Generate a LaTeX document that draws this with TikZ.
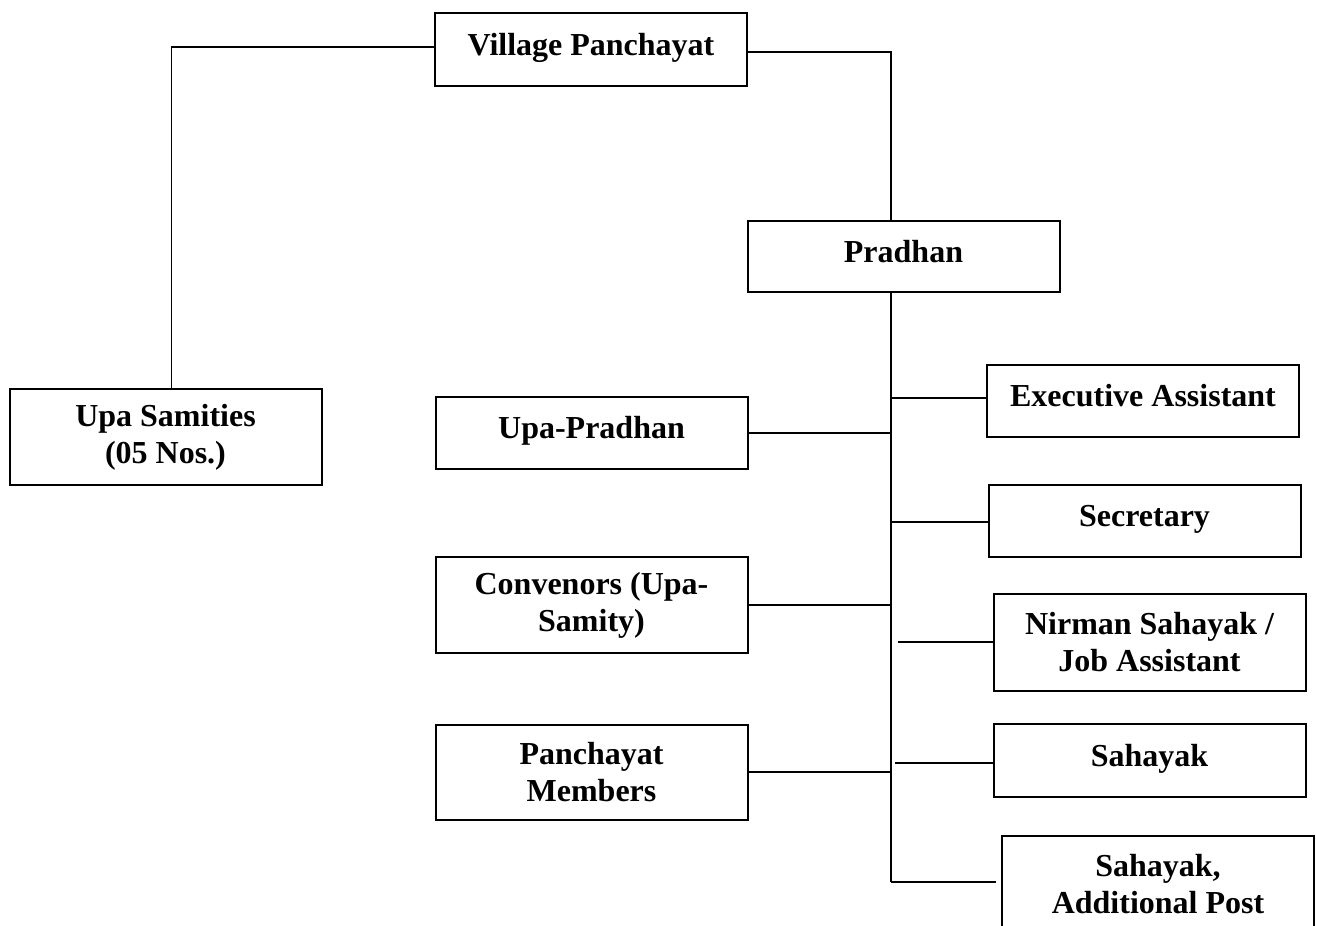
\documentclass[tikz,border=0pt]{standalone}
\usepackage{fontspec}
\setmainfont{Liberation Serif}
\usetikzlibrary{calc}
\begin{document}
\begin{tikzpicture}[x=1pt,y=-1pt,
  box/.style={draw=black, line width=2pt, rectangle, minimum width=312pt,
    inner sep=2pt, align=center,
    font=\fontsize{32}{37}\selectfont\bfseries},
  oneline/.style={text height=22pt, text depth=11pt},
  link/.style={draw=black, line width=1.8pt}]
\useasboundingbox (0,0) rectangle (1317,926);
\clip (0,0) rectangle (1317,926);

% top of the hierarchy
\node[box, oneline, minimum height=73pt] (vp) at (591,49.5) {Village Panchayat};
\node[box, oneline, minimum height=71pt] (pr) at (903.5,256.5) {Pradhan};
\node[box, minimum height=96pt] (us) at (165.5,437) {Upa Samities\\(05 Nos.)};

% elected side
\node[box, oneline, minimum height=72pt] (up) at (591.5,433) {Upa-Pradhan};
\node[box, minimum height=96pt] (cv) at (591.5,605) {Convenors (Upa-\\Samity)};
\node[box, minimum height=95pt] (pm) at (591.5,772.5) {Panchayat\\Members};

% staff side
\node[box, oneline, minimum height=72pt] (ea) at (1143,401) {Executive Assistant};
\node[box, oneline, minimum height=72pt] (se) at (1144.5,521) {Secretary};
\node[box, minimum height=97pt] (nj) at (1149.5,642.5) {Nirman Sahayak /\\Job Assistant};
\node[box, oneline, minimum height=73pt] (sh) at (1149.5,760.5) {Sahayak};
\node[box, minimum height=97pt] (sap) at (1158,884.5) {Sahayak,\\Additional Post};

% vertical trunk below the Pradhan
\coordinate (trunk) at (891,0);
\coordinate (trunkend) at (891,882);

\draw[link] ([yshift=2.5]vp.west) -| ([xshift=6]us.north);
\draw[link] ([yshift=-2.5]vp.east) -| (pr.north -| trunk);
\draw[link] (pr.south -| trunk) -- (trunkend);

% branches to the left
\draw[link] (up.east) -- (up.east -| trunk);
\draw[link] (cv.east) -- (cv.east -| trunk);
\draw[link] ([yshift=0.5]pm.east) -- ([yshift=0.5]pm.east -| trunk);

% branches to the right
\draw[link] ([yshift=3]ea.west -| trunk) -- ([yshift=3]ea.west);
\draw[link] ([yshift=-1]se.west -| trunk) -- ([yshift=-1]se.west);
\draw[link] ([xshift=7,yshift=0.5]nj.west -| trunk) -- ([yshift=0.5]nj.west);
\draw[link] ([xshift=4,yshift=-2.5]sh.west -| trunk) -- ([yshift=-2.5]sh.west);
\draw[link] (trunkend) -- ([xshift=-5]trunkend -| sap.west);
\end{tikzpicture}
\end{document}
